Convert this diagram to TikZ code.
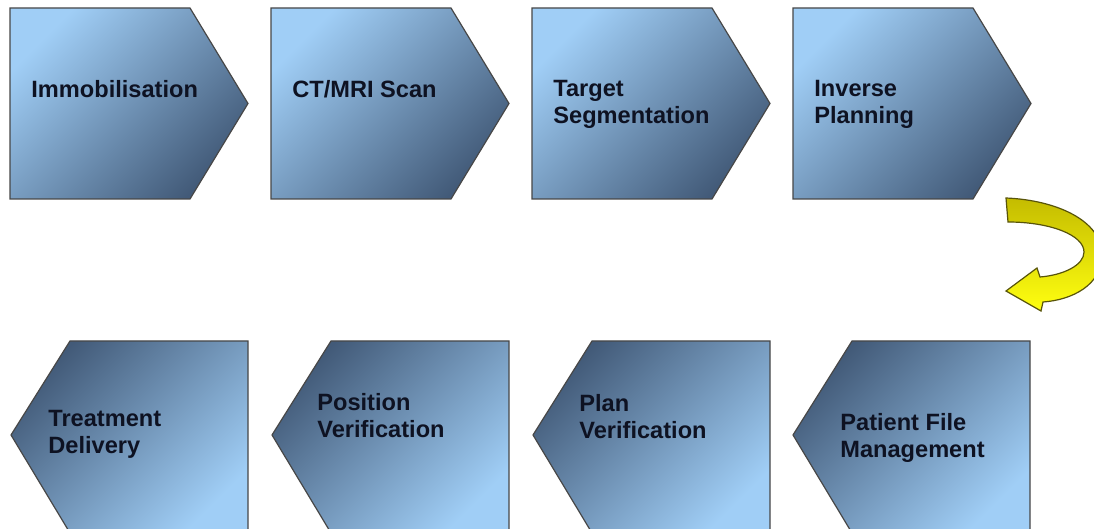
\documentclass[tikz,border=0pt]{standalone}
\usepackage{fontspec}
\setmainfont{Liberation Sans}
\usepackage{tikz}
\usetikzlibrary{arrows}

\definecolor{steplight}{RGB}{160,206,246}
\definecolor{stepdark}{RGB}{66,90,120}
\definecolor{steptext}{RGB}{14,18,34}
\definecolor{arrowolive}{RGB}{196,188,0}
\definecolor{arrowyellow}{RGB}{255,255,16}
\definecolor{arrowline}{RGB}{88,84,10}

\begin{document}
\begin{tikzpicture}[x=0.5pt, y=-0.5pt,
	chevron/.style={draw=black!72, line width=0.6pt},
	steplabel/.style={anchor=north west, inner sep=0pt, align=left, text=steptext,
		font=\fontsize{11.8}{13.5}\selectfont\bfseries}]
	\clip (0,0) rectangle (1094,529);
	\fill[white] (0,0) rectangle (1094,529);
	% upper row, pointing right
	\foreach \n/\x/\t in {1/10/Immobilisation, 2/271/{CT/MRI Scan}, 3/532/{Target\\Segmentation}, 4/793/{Inverse\\Planning}}
	{
	\shadedraw[chevron, top color=steplight, bottom color=stepdark, shading angle=45] (\x,8) -- ++(180,0) -- ++(58,95.5) -- ++(-58,95.5) -- ++(-180,0) -- cycle;
	\node[steplabel] (top\n) at (\x+21,80) {\t};
	}
	% lower row, pointing left
	\foreach \n/\x/\tx/\ty/\t in {1/11/48/410/{Treatment\\Delivery}, 2/272/317/393/{Position\\Verification}, 3/533/579/394/{Plan\\Verification}, 4/793/840/413/{Patient File\\Management}}
	{
	\shadedraw[chevron, top color=stepdark, bottom color=steplight, shading angle=45] (\x,435) -- ++(59,-94) -- ++(178,0) -- ++(0,192) -- ++(-178,0) -- cycle;
	\node[steplabel] (bot\n) at (\tx,\ty) {\t};
	}
	% turn-around arrow
	\shadedraw[draw=arrowline, line width=0.6pt, top color=arrowolive, middle color=arrowolive!45!arrowyellow, bottom color=arrowyellow]
		(1006,198) .. controls (1055,200) and (1102,220) .. (1102,255)
		.. controls (1102,285) and (1072,300) .. (1043,302) -- (1041,311) -- (1006,291) -- (1037,268) -- (1040,277)
		.. controls (1064,275) and (1084,265) .. (1084,252)
		.. controls (1084,235) and (1050,222) .. (1008,222) -- cycle;
\end{tikzpicture}
\end{document}
